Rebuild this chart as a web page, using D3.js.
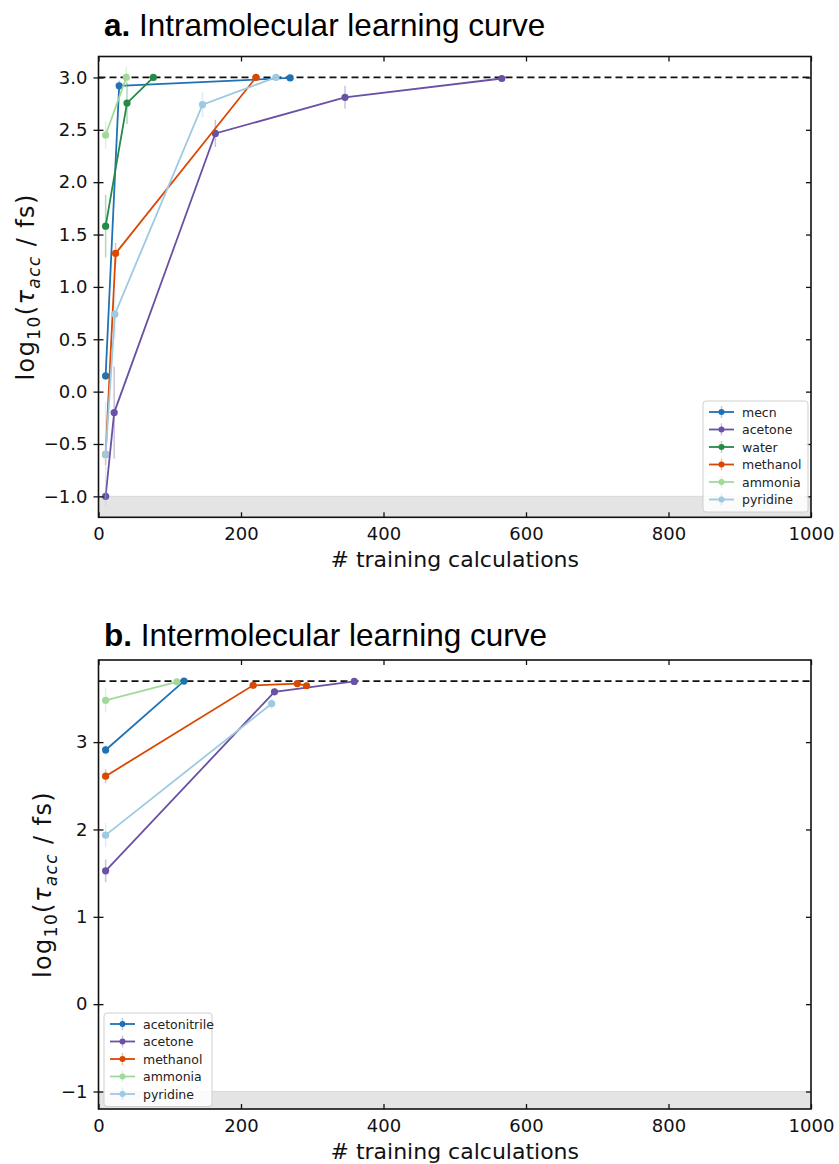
<!DOCTYPE html>
<html>
<head>
<meta charset="utf-8">
<script src="https://cdn.jsdelivr.net/npm/d3@7"></script>
<style>
  html, body { margin: 0; padding: 0; background: #fff; }
  svg { display: block; }
  .tick text { font-family: "DejaVu Sans", sans-serif; }
</style>
</head>
<body>
<svg id="chart" width="839" height="1164"></svg>
<script>
// ---- Panel a: intramolecular learning curve ----
const intraNames = ["mecn", "acetone", "water", "methanol", "ammonia", "pyridine"];
const intraColors = ["#2171b5", "#6a51a3", "#238b45", "#d94801", "#a1d99b", "#9ecae1"];
const intraX = [
  [10, 29, 269],
  [10, 22, 164, 346, 566],
  [10, 40, 77],
  [10, 24, 221],
  [10, 39],
  [10, 23, 146, 249]
];
const intraY = [
  [0.15, 2.92, 2.995],
  [-1.0, -0.2, 2.465, 2.81, 2.99],
  [1.58, 2.755, 3.0],
  [-0.6, 1.32, 3.0],
  [2.45, 3.0],
  [-0.6, 0.74, 2.74, 3.0]
];
const intraErr = [
  [0.04, 0.05, 0.01],
  [0.02, 0.44, 0.13, 0.11, 0.01],
  [0.3, 0.2, 0.01],
  [0.1, 0.1, 0.01],
  [0.13, 0.1],
  [0.5, 0.24, 0.12, 0.01]
];
const intraYTicks = [-1.0, -0.5, 0.0, 0.5, 1.0, 1.5, 2.0, 2.5, 3.0];
const intraTarget = 3.0;

// ---- Panel b: intermolecular learning curve ----
const interNames = ["acetonitrile", "acetone", "methanol", "ammonia", "pyridine"];
const interColors = ["#2171b5", "#6a51a3", "#d94801", "#a1d99b", "#9ecae1"];
const interX = [
  [10, 120],
  [10, 247, 359],
  [10, 217, 279, 292],
  [10, 110],
  [10, 243]
];
const interY = [
  [2.91, 3.699],
  [1.526, 3.576, 3.695],
  [2.61, 3.65, 3.67, 3.645],
  [3.478, 3.69],
  [1.935, 3.44]
];
const interErr = [
  [0.05, 0.01],
  [0.13, 0.04, 0.01],
  [0.08, 0.01, 0.01, 0.01],
  [0.14, 0.01],
  [0.14, 0.06]
];
const interYTicks = [-1, 0, 1, 2, 3];
const interTarget = Math.log10(5000);

const xTicks = [0, 200, 400, 600, 800, 1000];
const floorValue = -1.0;

const svg = d3.select("#chart");
const left = 98.5, right = 811;

function panel(opt) {
  const x = d3.scaleLinear().domain([0, 1000]).range([left, right]);
  const y = d3.scaleLinear().domain(opt.yDomain).range([opt.bottom, opt.top]);
  const g = svg.append("g");
  const clipId = "clip-" + opt.id;
  svg.append("clipPath").attr("id", clipId).append("rect")
    .attr("x", left).attr("y", opt.top).attr("width", right - left).attr("height", opt.bottom - opt.top);

  const plot = g.append("g").attr("clip-path", `url(#${clipId})`);

  // shaded region below the minimum accuracy
  plot.append("rect")
    .attr("x", left).attr("width", right - left)
    .attr("y", y(floorValue)).attr("height", opt.bottom - y(floorValue))
    .attr("fill", "#e4e4e4");
  plot.append("line")
    .attr("x1", left).attr("x2", right)
    .attr("y1", y(floorValue)).attr("y2", y(floorValue))
    .attr("stroke", "#d8d8d8").attr("stroke-width", 1);

  // target line
  plot.append("line")
    .attr("x1", left).attr("x2", right)
    .attr("y1", y(opt.target)).attr("y2", y(opt.target))
    .attr("stroke", "#111").attr("stroke-width", 1.8)
    .attr("stroke-dasharray", "7,4");

  const line = d3.line().x(d => x(d[0])).y(d => y(d[1]));

  opt.names.forEach((name, i) => {
    const pts = opt.xs[i].map((v, j) => [v, opt.ys[i][j], opt.errs[i][j]]);
    const c = opt.colors[i];
    const s = plot.append("g");
    s.selectAll("line.err").data(pts).join("line").attr("class", "err")
      .attr("x1", d => x(d[0])).attr("x2", d => x(d[0]))
      .attr("y1", d => y(d[1] - d[2])).attr("y2", d => y(d[1] + d[2]))
      .attr("stroke", c).attr("stroke-opacity", 0.35).attr("stroke-width", 1.5);
    s.append("path").datum(pts).attr("d", line)
      .attr("fill", "none").attr("stroke", c).attr("stroke-width", 1.8);
    s.selectAll("circle").data(pts).join("circle")
      .attr("cx", d => x(d[0])).attr("cy", d => y(d[1])).attr("r", 3.6)
      .attr("fill", c);
  });

  // axes: ticks inside, left axis in-and-out
  const fs = 18;
  const bx = g.append("g").attr("transform", `translate(0,${opt.bottom})`)
    .call(d3.axisBottom(x).tickValues(xTicks).tickSizeInner(-5).tickSizeOuter(0).tickPadding(10).tickFormat(d3.format("d")));
  const tx = g.append("g").attr("transform", `translate(0,${opt.top})`)
    .call(d3.axisTop(x).tickValues(xTicks).tickSizeInner(-5).tickSizeOuter(0).tickFormat(""));
  const ly = g.append("g").attr("transform", `translate(${left},0)`)
    .call(d3.axisLeft(y).tickValues(opt.yTicks).tickSizeInner(5).tickSizeOuter(0).tickPadding(6)
      .tickFormat(d => opt.fmt(d).replace("-", "\u2212")));
  ly.selectAll(".tick line").attr("x2", 5).attr("x1", -5);
  const ry = g.append("g").attr("transform", `translate(${right},0)`)
    .call(d3.axisRight(y).tickValues(opt.yTicks).tickSizeInner(-5).tickSizeOuter(0).tickFormat(""));
  [bx, tx, ly, ry].forEach(a => {
    a.select(".domain").remove();
    a.selectAll(".tick line").attr("stroke", "#111").attr("stroke-width", 1.3);
    a.selectAll(".tick text").attr("font-size", fs).attr("fill", "#111");
  });

  // frame
  g.append("rect").attr("x", left).attr("y", opt.top)
    .attr("width", right - left).attr("height", opt.bottom - opt.top)
    .attr("fill", "none").attr("stroke", "#111").attr("stroke-width", 1.6);

  // axis labels
  g.append("text").attr("x", (left + right) / 2).attr("y", opt.bottom + 50)
    .attr("text-anchor", "middle").attr("font-family", "DejaVu Sans, sans-serif")
    .attr("font-size", 22).attr("fill", "#111").text("# training calculations");

  const yl = g.append("text")
    .attr("transform", `translate(${opt.ylabelX},${(opt.top + opt.bottom) / 2}) rotate(-90)`)
    .attr("text-anchor", "middle").attr("font-family", "DejaVu Sans, sans-serif")
    .attr("font-size", 24).attr("letter-spacing", 1.4).attr("fill", "#111");
  yl.append("tspan").text("log");
  yl.append("tspan").attr("font-size", 17).attr("dy", 6).text("10");
  yl.append("tspan").attr("dy", -6).text("(");
  yl.append("tspan").attr("font-style", "italic").text("\u03c4");
  yl.append("tspan").attr("font-size", 17).attr("dy", 6).attr("font-style", "italic").text("acc");
  yl.append("tspan").attr("dy", -6).text(" / fs)");

  // title
  const t = g.append("text").attr("x", opt.titleX).attr("y", opt.titleY)
    .attr("font-family", "Liberation Sans, Arial, sans-serif").attr("font-size", 31.5).attr("fill", "#000");
  t.append("tspan").attr("font-weight", "bold").text(opt.titleBold);
  t.append("tspan").text(opt.title);

  // legend
  const lg = g.append("g");
  const rowH = 17.5;
  lg.append("rect").attr("x", opt.legX).attr("y", opt.legY)
    .attr("width", opt.legW).attr("height", rowH * opt.names.length + 6)
    .attr("rx", 3).attr("fill", "#fff").attr("fill-opacity", 0.85)
    .attr("stroke", "#cfcfcf").attr("stroke-width", 1);
  opt.names.forEach((name, i) => {
    const cy = opt.legY + 11 + i * rowH;
    const c = opt.colors[i];
    lg.append("line").attr("x1", opt.legX + 6).attr("x2", opt.legX + 31)
      .attr("y1", cy).attr("y2", cy).attr("stroke", c).attr("stroke-width", 1.8);
    lg.append("line").attr("x1", opt.legX + 18.5).attr("x2", opt.legX + 18.5)
      .attr("y1", cy - 6).attr("y2", cy + 6).attr("stroke", c).attr("stroke-opacity", 0.35).attr("stroke-width", 1.5);
    lg.append("circle").attr("cx", opt.legX + 18.5).attr("cy", cy).attr("r", 3).attr("fill", c);
    lg.append("text").attr("x", opt.legX + 39).attr("y", cy + 4.5)
      .attr("font-family", "DejaVu Sans, sans-serif").attr("font-size", 12.5).attr("fill", "#222").text(name);
  });
}

panel({
  id: "a", top: 56.5, bottom: 517.3, yDomain: [-1.2, 3.2],
  names: intraNames, colors: intraColors, xs: intraX, ys: intraY, errs: intraErr,
  yTicks: intraYTicks, fmt: d3.format(".1f"), target: intraTarget,
  ylabelX: 34, titleX: 104, titleY: 36, titleBold: "a.", title: " Intramolecular learning curve",
  legX: 703, legY: 401, legW: 105
});

panel({
  id: "b", top: 660, bottom: 1109, yDomain: [-1.2, 3.94],
  names: interNames, colors: interColors, xs: interX, ys: interY, errs: interErr,
  yTicks: interYTicks, fmt: d3.format("d"), target: interTarget,
  ylabelX: 51, titleX: 104, titleY: 646, titleBold: "b.", title: " Intermolecular learning curve",
  legX: 104, legY: 1013, legW: 108
});
</script>
</body>
</html>
